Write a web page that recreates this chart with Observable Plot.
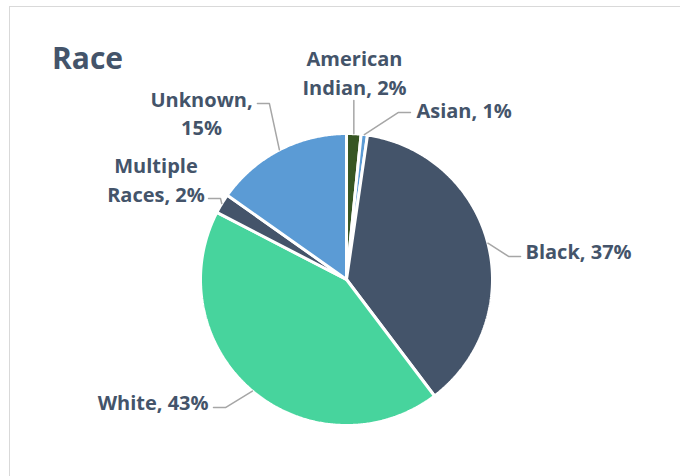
<!DOCTYPE html>
<html><head><meta charset="utf-8">
<script src="https://cdn.jsdelivr.net/npm/d3@7"></script>
<script src="https://cdn.jsdelivr.net/npm/@observablehq/plot@0.6"></script>
<style>
body{margin:0;background:#fff;}
#wrap{position:relative;width:680px;height:476px;overflow:hidden;font-family:"Open Sans",sans-serif;}
#frame{position:absolute;left:9px;top:6px;width:720px;height:520px;border:1.5px solid #d9d9d9;}
#title{position:absolute;left:52px;top:43px;font-size:30px;font-weight:700;line-height:1;color:#44546A;}
#chart{position:absolute;left:0;top:0;}
</style></head><body>
<div id="wrap"><div id="frame"></div><div id="title">Race</div><div id="chart"></div></div>
<script>
const categories = ["American Indian", "Asian", "Black", "White", "Multiple Races", "Unknown"];
const shares = [1.6, 0.7, 37.4, 42.9, 2.2, 15.2];
const labelTexts = ["American\nIndian, 2%", "Asian, 1%", "Black, 37%", "White, 43%", "Multiple\nRaces, 2%", "Unknown,\n15%"];
const colors = ["#375623", "#5B9BD5", "#44546A", "#47D49D", "#44546A", "#5B9BD5"];

// label placement, in pie-radius units relative to the pie centre (manual, as in the original)
const labelX = [0.055, 0.479, 1.226, -0.945, -1.305, -0.993];
const labelY = [1.426, 1.169, 0.201, -0.831, 0.692, 1.148];
const labelAnchor = ["middle", "start", "start", "end", "middle", "middle"];
const leaderEndX = [null, 0.438, 1.192, -0.911, -0.945, -0.610];
const leaderEndY = [1.226, 1.144, 0.158, -0.877, 0.555, 1.205];
const leaderSide = [0, -1, -1, 1, 1, 1];
const elbow = 0.082;

const arcs = d3.pie().sort(null).value(d => d)(shares);
const slicePts = [];
arcs.forEach((a, i) => {
  slicePts.push({cat: categories[i], x: 0, y: 0});
  const n = Math.max(2, Math.ceil((a.endAngle - a.startAngle) / (Math.PI / 360)));
  for (let k = 0; k <= n; k++) {
    const t = a.startAngle + (a.endAngle - a.startAngle) * k / n;
    slicePts.push({cat: categories[i], x: Math.sin(t), y: Math.cos(t)});
  }
});

const leaderPts = [];
const labels = [];
arcs.forEach((a, i) => {
  const m = (a.startAngle + a.endAngle) / 2;
  const ax = Math.sin(m), ay = Math.cos(m);
  const cx = leaderEndX[i] === null ? ax : leaderEndX[i];
  const cy = leaderEndY[i];
  const bx = cx + leaderSide[i] * elbow;
  leaderPts.push({cat: categories[i], x: ax, y: ay});
  leaderPts.push({cat: categories[i], x: bx, y: cy});
  leaderPts.push({cat: categories[i], x: cx, y: cy});
  labels.push({text: labelTexts[i], x: labelX[i], y: labelY[i], anchor: labelAnchor[i]});
});

const textOpts = {x: "x", y: "y", text: "text", fill: "#44546A", fontSize: 20, fontWeight: 700,
  fontFamily: "Open Sans", lineHeight: 1.42, lineAnchor: "middle"};

const chart = Plot.plot({
  width: 680, height: 476, margin: 0,
  x: {domain: [-346 / 146, 334 / 146], axis: null},
  y: {domain: [-197 / 146, 279 / 146], axis: null},
  color: {domain: categories, range: colors},
  style: {background: "transparent"},
  marks: [
    Plot.line(slicePts, {x: "x", y: "y", z: "cat", fill: "cat", stroke: "white", strokeWidth: 3, curve: "linear-closed", strokeLinejoin: "miter"}),
    Plot.line(leaderPts, {x: "x", y: "y", z: "cat", stroke: "#A6A6A6", strokeWidth: 1.5}),
    Plot.text(labels.filter(d => d.anchor === "middle"), {...textOpts, textAnchor: "middle"}),
    Plot.text(labels.filter(d => d.anchor === "start"), {...textOpts, textAnchor: "start"}),
    Plot.text(labels.filter(d => d.anchor === "end"), {...textOpts, textAnchor: "end"})
  ]
});
document.getElementById("chart").appendChild(chart);
</script>
</body></html>
